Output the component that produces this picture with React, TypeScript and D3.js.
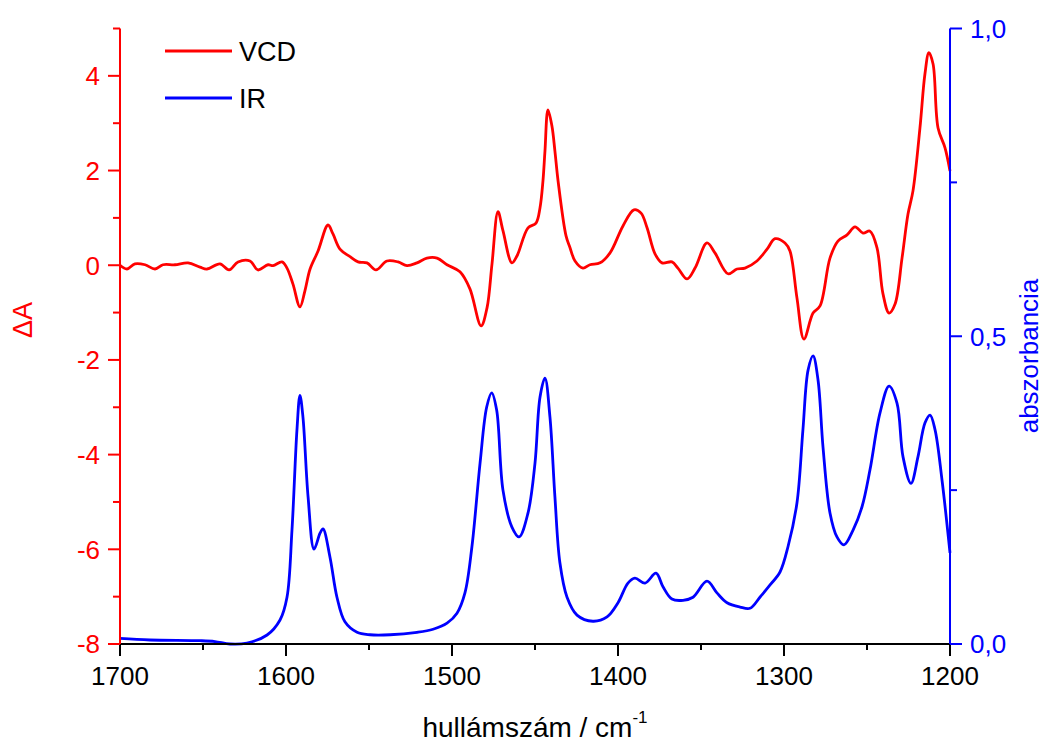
import React from "react";
import * as d3 from "d3";

// VCD spectrum: [wavenumber, ΔA]
const vcdData: [number, number][] = [
  [1700, 0], [1695.8, -0.08], [1691, 0.03], [1684.9, 0.01], [1678.9, -0.08], [1674.1, 0.01],
  [1666.9, 0.01], [1659, 0.05], [1651.8, -0.04], [1647.6, -0.08], [1639.8, 0.03], [1634.3, -0.1],
  [1628.9, 0.07], [1621.7, 0.09], [1616.9, -0.1], [1610.8, 0.01], [1607.8, -0.01], [1602.4, 0.07],
  [1599.4, -0.06], [1595.8, -0.4], [1591.6, -0.88], [1588.6, -0.54], [1585.5, -0.08], [1580.7, 0.3],
  [1574.7, 0.85], [1571.7, 0.66], [1567.5, 0.34], [1561.4, 0.18], [1556.6, 0.07], [1551.2, 0.05],
  [1545.8, -0.1], [1539.2, 0.09], [1532.5, 0.07], [1527.1, -0.01], [1521.1, 0.05], [1515.1, 0.15],
  [1509, 0.15], [1503, 0.01], [1495.2, -0.14], [1489.2, -0.5], [1482.5, -1.28], [1478.9, -0.9],
  [1475.9, 0.03], [1472.3, 1.13], [1469.3, 0.73], [1463.9, 0.05], [1460.8, 0.2], [1454.2, 0.79],
  [1449.4, 0.89], [1447, 1.21], [1445.2, 1.78], [1444, 2.41], [1442.2, 3.28], [1439.8, 2.94],
  [1438, 2.41], [1436.1, 1.78], [1431.3, 0.62], [1428.9, 0.37], [1425.9, 0.09], [1421.1, -0.06],
  [1416.9, 0.01], [1410.8, 0.05], [1404.8, 0.26], [1397, 0.83], [1390.4, 1.17], [1386.1, 1.1],
  [1382.5, 0.79], [1377.7, 0.24], [1373.5, 0.05], [1367.5, 0.07], [1363.9, -0.06], [1358.4, -0.29],
  [1353.6, -0.06], [1346.4, 0.47], [1341.6, 0.26], [1333.7, -0.18], [1328.3, -0.08], [1323.5, -0.06],
  [1316.3, 0.09], [1310.2, 0.34], [1305.4, 0.56], [1299.4, 0.47], [1296.4, 0.3], [1292.2, -0.69],
  [1288, -1.56], [1282.5, -1.01], [1278.3, -0.86], [1272.3, 0.15], [1267.5, 0.51], [1262, 0.64],
  [1257.2, 0.81], [1252.4, 0.68], [1248.2, 0.72], [1244, 0.37], [1240.4, -0.6], [1236.7, -1.01],
  [1233.1, -0.82], [1228.9, 0.15], [1225.3, 1.08], [1222.3, 1.57], [1218.1, 2.9], [1215.1, 4.04],
  [1212.7, 4.49], [1210.2, 4.25], [1207.2, 2.9], [1203, 2.48], [1200, 1.99],
];

// IR spectrum: [wavenumber, absorbance]
const irData: [number, number][] = [
  [1700, 0.009], [1681.9, 0.0065], [1651.8, 0.0054], [1642.8, 0.004], [1633.7, 0.0], [1623.5, 0.0016],
  [1611.4, 0.0146], [1603.6, 0.039], [1599.4, 0.076], [1596.4, 0.185], [1593.4, 0.348], [1591.6, 0.404],
  [1589.8, 0.369], [1586.7, 0.239], [1583.1, 0.154], [1579.5, 0.18], [1577.7, 0.187], [1573.5, 0.141],
  [1569.3, 0.076], [1564.5, 0.036], [1557.2, 0.019], [1549.4, 0.015], [1537.3, 0.015], [1521.1, 0.019],
  [1511.4, 0.024], [1503, 0.034], [1497, 0.05], [1492.2, 0.083], [1488, 0.158], [1483.1, 0.294],
  [1479.1, 0.385], [1476.1, 0.408], [1473.1, 0.38], [1469.3, 0.25], [1463.9, 0.19], [1459.6, 0.174],
  [1454.2, 0.213], [1450, 0.294], [1447, 0.401], [1444, 0.432], [1441, 0.369], [1438, 0.239],
  [1435, 0.132], [1430.7, 0.076], [1424.7, 0.047], [1415.1, 0.037], [1406.6, 0.044], [1400, 0.067],
  [1394, 0.099], [1389.8, 0.107], [1383.7, 0.099], [1377.1, 0.115], [1372.9, 0.093], [1367.5, 0.073],
  [1360.8, 0.071], [1354.8, 0.076], [1346.4, 0.102], [1340.4, 0.083], [1334.3, 0.067], [1326.5, 0.06],
  [1320.5, 0.058], [1314.5, 0.076], [1308.4, 0.096], [1302.4, 0.117], [1297.6, 0.158], [1292.2, 0.229],
  [1288.6, 0.348], [1285.5, 0.445], [1282.5, 0.468], [1279.5, 0.429], [1276.5, 0.32], [1272.3, 0.213],
  [1268.1, 0.174], [1263.9, 0.161], [1258.4, 0.185], [1253, 0.223], [1248.2, 0.283], [1242.2, 0.375],
  [1236.7, 0.419], [1231.9, 0.391], [1228.3, 0.304], [1223.5, 0.261], [1219.3, 0.304], [1215.1, 0.359],
  [1212, 0.372], [1209, 0.348], [1204.8, 0.266], [1200, 0.148],
];

const xMajorTicks = [1700, 1600, 1500, 1400, 1300, 1200];
const xMinorTicks = [1650, 1550, 1450, 1350, 1250];
const leftMajorTicks = [-8, -6, -4, -2, 0, 2, 4];
const leftMinorTicks = [-7, -5, -3, -1, 1, 3, 5];
const rightMajorTicks = [0, 0.5, 1.0];
const rightMinorTicks = [0.25, 0.75];
const rightTickLabels = ["0,0", "0,5", "1,0"];

const W = 1046;
const H = 743;
const FONT = "'Liberation Sans', Arial, sans-serif";

export default function App() {
  const x = d3.scaleLinear().domain([1700, 1200]).range([120, 950]);
  const yL = d3.scaleLinear().domain([-8, 5]).range([644, 28.5]);
  const yR = d3.scaleLinear().domain([0, 1]).range([644, 28.5]);

  const vcdLine = d3
    .line<[number, number]>()
    .x((d) => x(d[0]))
    .y((d) => yL(d[1]))
    .curve(d3.curveCatmullRom.alpha(0.5));
  const irLine = d3
    .line<[number, number]>()
    .x((d) => x(d[0]))
    .y((d) => yR(d[1]))
    .curve(d3.curveCatmullRom.alpha(0.5));

  const red = "#ff0000";
  const blue = "#0000ff";

  return (
    <svg
      width={W}
      height={H}
      style={{ position: "absolute", left: 0, top: 0, background: "#fff" }}
      fontFamily={FONT}
    >
      {/* curves */}
      <path d={vcdLine(vcdData) || ""} fill="none" stroke={red} strokeWidth={2.8} strokeLinejoin="round" />
      <path d={irLine(irData) || ""} fill="none" stroke={blue} strokeWidth={2.8} strokeLinejoin="round" />

      {/* bottom axis */}
      <line x1={x(1700)} x2={x(1200)} y1={644} y2={644} stroke="#000" strokeWidth={2} />
      {xMajorTicks.map((t) => (
        <g key={"xm" + t}>
          <line x1={x(t)} x2={x(t)} y1={644} y2={656} stroke="#000" strokeWidth={2} />
          <text x={x(t)} y={685} textAnchor="middle" fontSize={26} fill="#000">
            {t}
          </text>
        </g>
      ))}
      {xMinorTicks.map((t) => (
        <line key={"xn" + t} x1={x(t)} x2={x(t)} y1={644} y2={650} stroke="#000" strokeWidth={2} />
      ))}
      <text x={535} y={737} textAnchor="middle" fontSize={28} fill="#000">
        hullámszám / cm
        <tspan fontSize={17} dy={-14}>-1</tspan>
      </text>

      {/* left axis */}
      <line x1={120} x2={120} y1={yL(5)} y2={yL(-8)} stroke={red} strokeWidth={2} />
      {leftMajorTicks.map((t) => (
        <g key={"lm" + t}>
          <line x1={108} x2={120} y1={yL(t)} y2={yL(t)} stroke={red} strokeWidth={2} />
          <text x={100} y={yL(t)} dy="0.36em" textAnchor="end" fontSize={26} fill={red}>
            {t}
          </text>
        </g>
      ))}
      {leftMinorTicks.map((t) => (
        <line key={"ln" + t} x1={113} x2={120} y1={yL(t)} y2={yL(t)} stroke={red} strokeWidth={2} />
      ))}
      <text
        transform={`translate(32,320) rotate(-90)`}
        textAnchor="middle"
        fontSize={27}
        fill={red}
      >
        ΔA
      </text>

      {/* right axis */}
      <line x1={950} x2={950} y1={yR(1)} y2={yR(0)} stroke={blue} strokeWidth={2} />
      {rightMajorTicks.map((t, i) => (
        <g key={"rm" + t}>
          <line x1={950} x2={962} y1={yR(t)} y2={yR(t)} stroke={blue} strokeWidth={2} />
          <text x={970} y={yR(t)} dy="0.36em" textAnchor="start" fontSize={26} fill={blue}>
            {rightTickLabels[i]}
          </text>
        </g>
      ))}
      {rightMinorTicks.map((t) => (
        <line key={"rn" + t} x1={950} x2={957} y1={yR(t)} y2={yR(t)} stroke={blue} strokeWidth={2} />
      ))}
      <text
        transform={`translate(1038,356) rotate(-90)`}
        textAnchor="middle"
        fontSize={26}
        fill={blue}
      >
        abszorbancia
      </text>

      {/* legend */}
      <line x1={165} x2={232} y1={51} y2={51} stroke={red} strokeWidth={2.8} />
      <text x={239} y={61} fontSize={27} fill="#000">VCD</text>
      <line x1={165} x2={232} y1={98} y2={98} stroke={blue} strokeWidth={2.8} />
      <text x={239} y={108} fontSize={27} fill="#000">IR</text>
    </svg>
  );
}
